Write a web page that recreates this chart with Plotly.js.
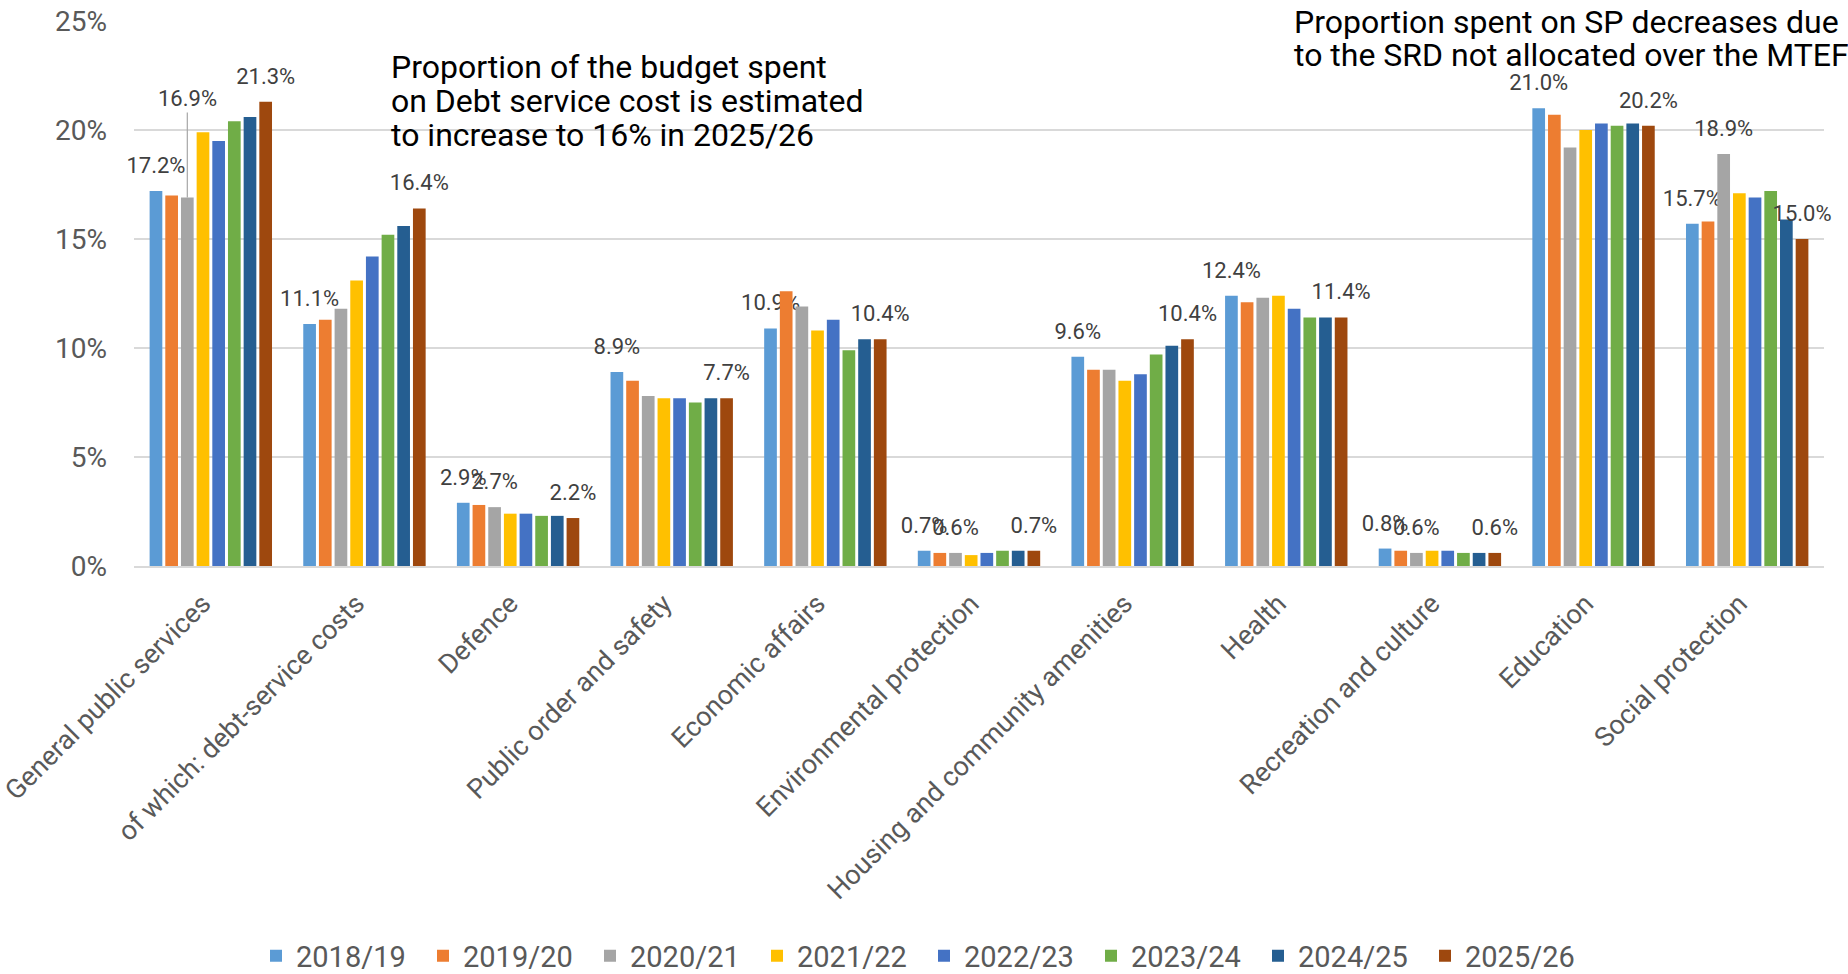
<!DOCTYPE html>
<html><head><meta charset="utf-8">
<script src="https://cdn.plot.ly/plotly-3.0.1.min.js"></script>
<style>html,body{margin:0;padding:0;background:#fff}#chart{width:1848px;height:974px}</style>
</head><body><div id="chart"></div>
<script>
const categories = ["General public services","of which: debt-service costs","Defence","Public order and safety","Economic affairs","Environmental protection","Housing and community amenities","Health","Recreation and culture","Education","Social protection"];
const years = ["2018/19","2019/20","2020/21","2021/22","2022/23","2023/24","2024/25","2025/26"];
const v2018 = [17.2,11.1,2.9,8.9,10.9,0.7,9.6,12.4,0.8,21.0,15.7];
const v2019 = [17.0,11.3,2.8,8.5,12.6,0.6,9.0,12.1,0.7,20.7,15.8];
const v2020 = [16.9,11.8,2.7,7.8,11.9,0.6,9.0,12.3,0.6,19.2,18.9];
const v2021 = [19.9,13.1,2.4,7.7,10.8,0.5,8.5,12.4,0.7,20.0,17.1];
const v2022 = [19.5,14.2,2.4,7.7,11.3,0.6,8.8,11.8,0.7,20.3,16.9];
const v2023 = [20.4,15.2,2.3,7.5,9.9,0.7,9.7,11.4,0.6,20.2,17.2];
const v2024 = [20.6,15.6,2.3,7.7,10.4,0.7,10.1,11.4,0.6,20.3,15.9];
const v2025 = [21.3,16.4,2.2,7.7,10.4,0.7,10.4,11.4,0.6,20.2,15.0];
const seriesValues = [v2018,v2019,v2020,v2021,v2022,v2023,v2024,v2025];
const colors = ["#5B9BD5","#ED7D31","#A5A5A5","#FFC000","#4472C4","#70AD47","#255E91","#9E480E"];
// which bars show a data label (series index -> category indices)
const labelled = {0: "all", 2: [2,5,8,10], 7: "all"};
// label attached with a leader line: [series index, category index]
const leaderLabel = [2, 0];
const note1Lines = ["Proportion of the budget spent","on Debt service cost is estimated","to increase to 16% in 2025/26"];
const note2Lines = ["Proportion spent on SP decreases due","to the SRD not allocated over the MTEF"];

const FONT = "Roboto, 'Open Sans', sans-serif";
const BARGAP = 0.184, GROUPGAP = 0.19;

function fmt(v){ return v.toFixed(1) + "%"; }

const traces = years.map((yr, s) => {
  const vals = seriesValues[s];
  const rule = labelled[s];
  const text = vals.map((v, i) => {
    const on = rule === "all" || (Array.isArray(rule) && rule.includes(i));
    // small second line keeps the label clear of the bar top, as in the source
    return on ? "<span style='font-size:22px'>" + fmt(v) + "</span><br>&nbsp;" : "";
  });
  return {
    type: "bar", name: yr, x: categories, y: vals,
    marker: {color: colors[s], line: {width: 0}},
    text: text, textposition: "outside", constraintext: "none", cliponaxis: false,
    textfont: {family: FONT, size: 10, color: "#404040"},
    hoverinfo: "x+y+name"
  };
});

const nS = years.length;
const lw = (1 - BARGAP);
const offsetOf = s => -lw/2 + (s + 0.5) * lw / nS;

const PLOT_L = 134, PLOT_W = 1690, PLOT_T = 21, PLOT_H = 545;
const px = x => (x - PLOT_L) / PLOT_W;
const py = y => (PLOT_T + PLOT_H - y) / PLOT_H;

const annotations = [];
const n1y = [67, 101, 135];
note1Lines.forEach((t, i) => annotations.push({xref: "paper", yref: "paper", x: px(389), y: py(n1y[i]),
  xanchor: "left", yanchor: "middle", align: "left", showarrow: false, text: t,
  font: {family: FONT, size: 32, color: "#000"}}));
const n2y = [22, 55];
note2Lines.forEach((t, i) => annotations.push({xref: "paper", yref: "paper", x: px(1292), y: py(n2y[i]),
  xanchor: "left", yanchor: "middle", align: "left", showarrow: false, text: t,
  font: {family: FONT, size: 32, color: "#000"}}));
annotations.push({xref: "x", yref: "y", x: leaderLabel[1] + offsetOf(leaderLabel[0]), y: seriesValues[leaderLabel[0]][leaderLabel[1]],
   text: fmt(seriesValues[leaderLabel[0]][leaderLabel[1]]), showarrow: true, arrowhead: 0, arrowwidth: 1.2,
   arrowcolor: "#A6A6A6", ax: 0, ay: -99, standoff: 0, font: {family: FONT, size: 22, color: "#404040"}});

const layout = {
  width: 1848, height: 974,
  margin: {l: PLOT_L, r: 1848 - PLOT_L - PLOT_W, t: PLOT_T, b: 974 - PLOT_T - PLOT_H, pad: 0},
  paper_bgcolor: "#fff", plot_bgcolor: "#fff",
  barmode: "group", bargap: BARGAP, bargroupgap: GROUPGAP,
  font: {family: FONT, color: "#595959"},
  xaxis: {type: "category", tickangle: -45, tickfont: {family: FONT, size: 27, color: "#595959"},
          ticklabelstandoff: 9, ticklabelshift: -8,
          showline: true, linecolor: "#D9D9D9", linewidth: 2, ticks: "", showgrid: false, automargin: false},
  yaxis: {range: [0, 25], dtick: 5, ticksuffix: "%", tickfont: {family: FONT, size: 28, color: "#595959"},
          showgrid: true, gridcolor: "#D9D9D9", gridwidth: 1.3, zeroline: false, showline: false,
          ticks: "", ticklabelstandoff: 26, automargin: false},
  showlegend: true,
  legend: {orientation: "h", xref: "paper", x: px(924), xanchor: "center",
           yref: "container", y: (974 - 956) / 974, yanchor: "middle",
           font: {family: FONT, size: 29, color: "#595959"}, entrywidth: 122, traceorder: "normal"},
  annotations: annotations
};

Plotly.newPlot("chart", traces, layout, {displayModeBar: false, staticPlot: true});
</script>
</body></html>
